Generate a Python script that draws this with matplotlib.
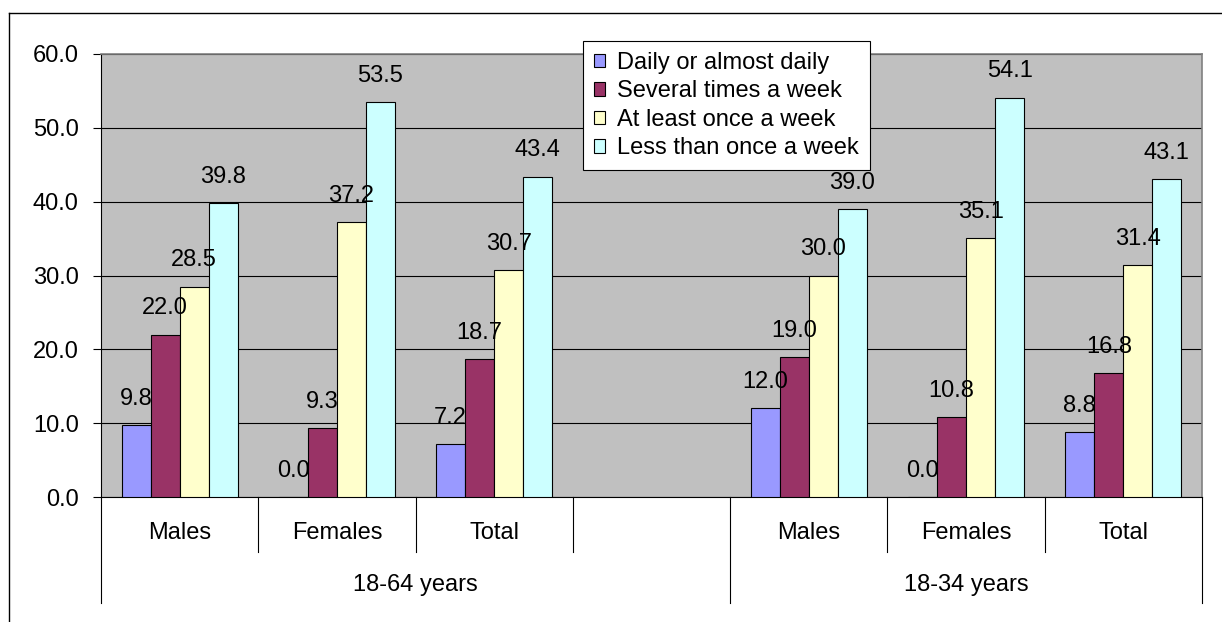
import matplotlib.pyplot as plt
import numpy as np
from matplotlib.lines import Line2D
from matplotlib.patches import Patch

plt.rcParams['font.family'] = ['Liberation Sans', 'DejaVu Sans']

categories = ["Males", "Females", "Total", "", "Males", "Females", "Total"]
groups = ["18-64 years", "18-34 years"]
group_spans = [(0, 4), (4, 7)]
series = ["Daily or almost daily", "Several times a week",
          "At least once a week", "Less than once a week"]
daily = [9.8, 0.0, 7.2, np.nan, 12.0, 0.0, 8.8]
several = [22.0, 9.3, 18.7, np.nan, 19.0, 10.8, 16.8]
at_least = [28.5, 37.2, 30.7, np.nan, 30.0, 35.1, 31.4]
less = [39.8, 53.5, 43.4, np.nan, 39.0, 54.1, 43.1]
colors = ["#9999FF", "#993366", "#FFFFCC", "#CCFFFF"]

FS = 17
W = 1222
H = 622

fig = plt.figure(figsize=(W / 100, H / 100), dpi=100)
ax = fig.add_axes([101 / W, 1 - 497 / H, (1202 - 101) / W, (497 - 54) / H])
ax.set_facecolor("#C0C0C0")

width = 0.1845
pos = np.arange(len(categories)) + 0.5
for j, (name, vals) in enumerate(zip(series, [daily, several, at_least, less])):
    x = pos + (j - 1.5) * width
    ax.bar(x, vals, width, color=colors[j], edgecolor="black", linewidth=0.8,
           zorder=3, label=name)
    for xi, v in zip(x, vals):
        if np.isnan(v):
            continue
        ax.annotate(f"{v:.1f}", (xi, v), xytext=(0, 14.5), textcoords="offset points",
                    ha="center", va="baseline", fontsize=FS, zorder=4)

ax.set_xlim(0, len(categories))
ax.set_ylim(0, 60)
ax.set_yticks(np.arange(0, 61, 10))
ax.set_yticklabels([f"{t:.1f}" for t in np.arange(0, 61, 10)], fontsize=FS)
ax.tick_params(axis="y", length=6, width=0.8, pad=10, color="black")
ax.set_xticks([])
ax.yaxis.grid(True, color="black", linewidth=0.8, zorder=1)
ax.set_axisbelow(True)
for side in ["top", "right"]:
    ax.spines[side].set_color("#808080")
    ax.spines[side].set_linewidth(1.2)
for side in ["left", "bottom"]:
    ax.spines[side].set_color("black")
    ax.spines[side].set_linewidth(0.8)

# category table under the axis
trans = ax.get_xaxis_transform()
long_lines = {s for span in group_spans for s in span}
for b in range(len(categories) + 1):
    depth = -0.239 if b in long_lines else -0.124
    ax.plot([b, b], [0, depth], transform=trans, clip_on=False,
            color="black", linewidth=0.8)
for i, cat in enumerate(categories):
    ax.text(i + 0.5, -0.081, cat, transform=trans, ha="center", va="center", fontsize=FS)
for g, (a, b) in zip(groups, group_spans):
    ax.text((a + b) / 2, -0.199, g, transform=trans, ha="center", va="center", fontsize=FS)

# chart border (runs off the right and bottom edges)
fig.add_artist(Line2D([9 / W, 1.0], [1 - 13 / H] * 2, color="black", linewidth=1.0))
fig.add_artist(Line2D([9 / W] * 2, [0.0, 1 - 13 / H], color="black", linewidth=1.0))

handles = [Patch(facecolor=c, edgecolor="black", linewidth=0.8) for c in colors]
leg = ax.legend(handles, series, loc="upper left", bbox_to_anchor=(583 / W, 1 - 41 / H),
                bbox_transform=fig.transFigure, fontsize=FS, frameon=True, fancybox=False,
                framealpha=1, edgecolor="black", borderpad=0.45, labelspacing=0.28,
                handlelength=0.5, handleheight=0.5, handletextpad=0.5,
                borderaxespad=0)
leg.get_frame().set_linewidth(0.8)
leg.set_zorder(5)

fig.savefig("out.png", dpi=100)
